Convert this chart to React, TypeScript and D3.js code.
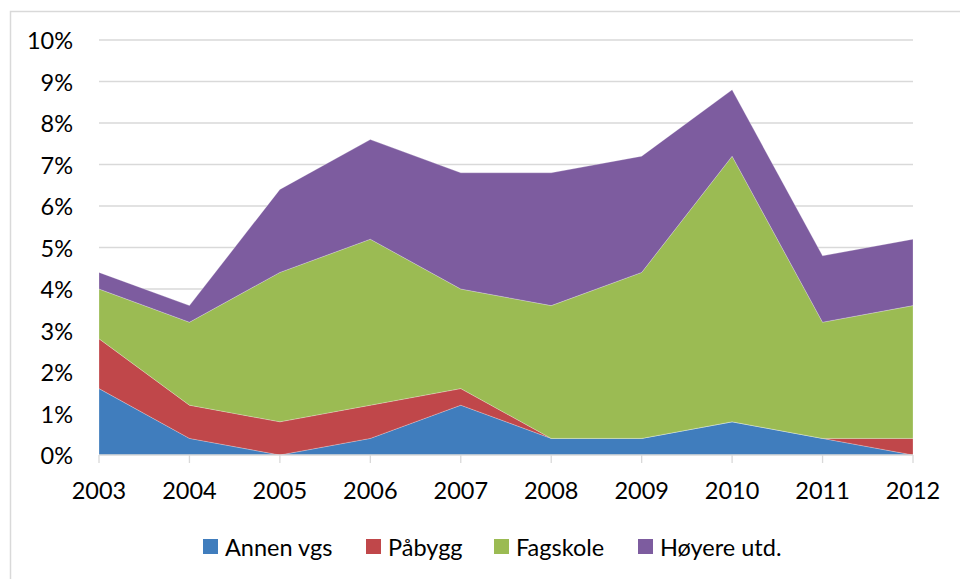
import React from "react";
import * as d3 from "d3";

const years = ["2003", "2004", "2005", "2006", "2007", "2008", "2009", "2010", "2011", "2012"];
const seriesNames = ["Annen vgs", "Påbygg", "Fagskole", "Høyere utd."];
const annenVgs = [1.6, 0.4, 0.0, 0.4, 1.2, 0.4, 0.4, 0.8, 0.4, 0.0];
const paabygg = [1.2, 0.8, 0.8, 0.8, 0.4, 0.0, 0.0, 0.0, 0.0, 0.4];
const fagskole = [1.2, 2.0, 3.6, 4.0, 2.4, 3.2, 4.0, 6.4, 2.8, 3.2];
const hoyere = [0.4, 0.4, 2.0, 2.4, 2.8, 3.2, 2.8, 1.6, 1.6, 1.6];
const yTicks = [0, 1, 2, 3, 4, 5, 6, 7, 8, 9, 10];
const colors = ["#407DBD", "#C0474A", "#9BBB53", "#7D5C9F"];

const W = 960;
const H = 579;
const FONT = "Lato, 'Open Sans', sans-serif";

export default function App() {
  const x = d3.scalePoint<string>().domain(years).range([99, 913]);
  const y = d3.scaleLinear().domain([0, 10]).range([455, 40]);

  const rows = years.map((yr, i) => ({
    year: yr,
    s0: annenVgs[i],
    s1: paabygg[i],
    s2: fagskole[i],
    s3: hoyere[i],
  }));
  const stack = d3.stack<any>().keys(["s0", "s1", "s2", "s3"]);
  const layers = stack(rows);
  const area = d3
    .area<any>()
    .x((d) => x(d.data.year) as number)
    .y0((d) => y(d[0]))
    .y1((d) => y(d[1]));

  const legendSwatchX = [203, 366, 494, 638];

  return (
    <svg
      width={W}
      height={H}
      style={{ position: "absolute", left: 0, top: 0, background: "#fff" }}
      fontFamily={FONT}
    >
      <rect x={10.5} y={11.5} width={W} height={H} fill="#fff" stroke="#D9D9D9" strokeWidth={1.5} />
      {yTicks.map((t) => (
        <g key={t}>
          {t > 0 && (
            <line x1={99} x2={913} y1={y(t)} y2={y(t)} stroke="#D9D9D9" strokeWidth={1.3} />
          )}
          <text
            x={73}
            y={y(t)}
            textAnchor="end"
            dominantBaseline="central"
            fontSize={23.5}
            fill="#000"
          >
            {t}%
          </text>
        </g>
      ))}
      {layers.map((layer, i) => (
        <path key={i} d={area(layer as any) || ""} fill={colors[i]} stroke="#fff" strokeWidth={0.4} strokeOpacity={0.6} />
      ))}
      <line x1={99} x2={913} y1={455} y2={455} stroke="#D9D9D9" strokeWidth={1.3} />
      {years.map((yr) => (
        <g key={yr}>
          <line x1={x(yr)} x2={x(yr)} y1={455} y2={463} stroke="#D9D9D9" strokeWidth={1.3} />
          <text x={x(yr)} y={490} textAnchor="middle" dominantBaseline="central" fontSize={23.5} fill="#000">
            {yr}
          </text>
        </g>
      ))}
      {seriesNames.map((name, i) => (
        <g key={name}>
          <rect x={legendSwatchX[i]} y={539} width={15} height={15} fill={colors[i]} />
          <text x={legendSwatchX[i] + 22} y={547} dominantBaseline="central" fontSize={23.5} fill="#000">
            {name}
          </text>
        </g>
      ))}
    </svg>
  );
}
